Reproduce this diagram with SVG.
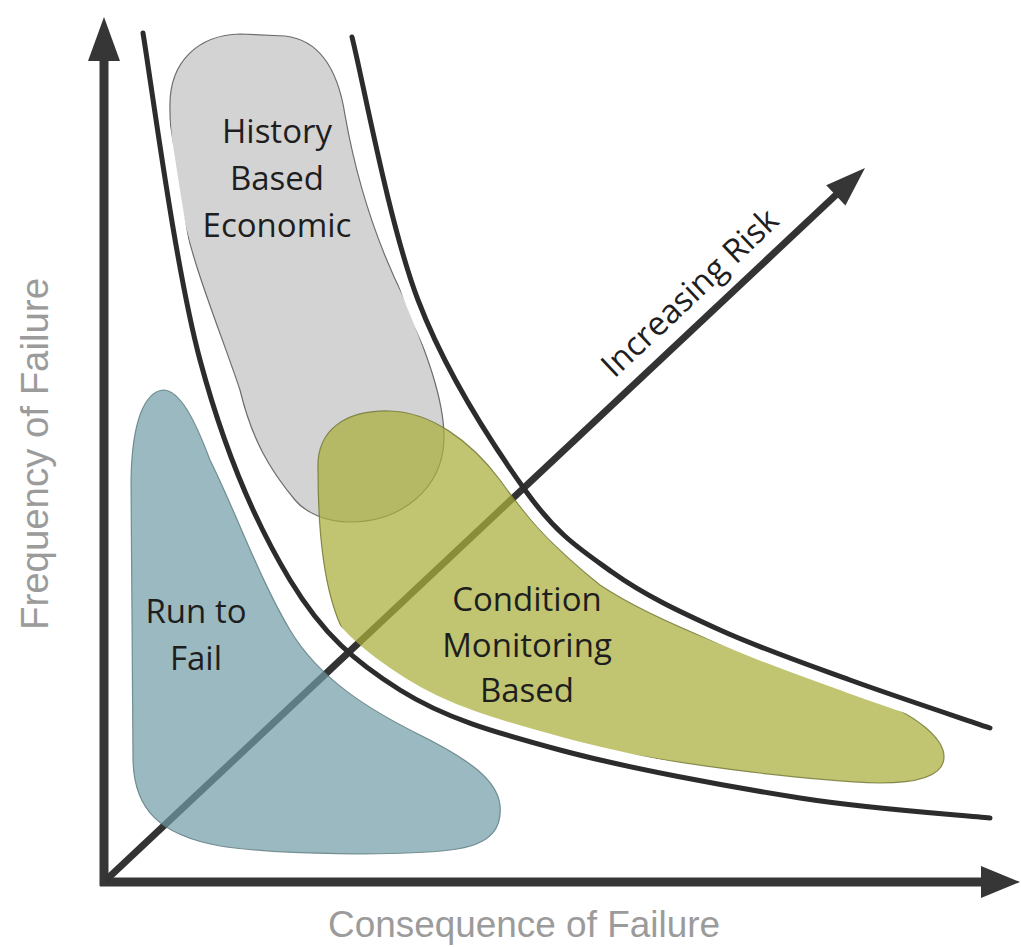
<svg xmlns="http://www.w3.org/2000/svg" xmlns:xlink="http://www.w3.org/1999/xlink" width="1021" height="947" viewBox="0 0 1021 947">
<style>
.axis{stroke:#363636;stroke-width:9;fill:none}
.head{fill:#363636}
.diag{stroke:#333;stroke-width:7;fill:none}
.curve{stroke:#2c2c2c;stroke-width:5;fill:none;stroke-linecap:round}
.lbl{font-family:"Open Sans","Noto Sans",sans-serif;font-size:33px;fill:#1e1e1e;text-anchor:middle}
.axlbl{font-family:"Liberation Sans",Arial,sans-serif;fill:#9b9b9b;text-anchor:middle}
</style>
<defs>
<path id="c1" d="M143,33 C152,88 175.5,268.8 200,360 C224.5,451.2 256.7,525 290,580 C323.3,635 355,661.7 400,690 C445,718.3 493.3,732 560,750 C626.7,768 728.3,786.7 800,798 C871.7,809.3 958,814.7 990,818"/>
<path id="c2" d="M352,37 C363,80.8 389.2,224.5 418,300 C446.8,375.5 492.7,444.7 525,490 C557.3,535.3 579.5,548.7 612,572 C644.5,595.3 680.3,612 720,630 C759.7,648 805,663.7 850,680 C895,696.3 966.7,720 990,728"/>
<mask id="band" maskUnits="userSpaceOnUse" x="0" y="0" width="1021" height="947">
<rect width="1021" height="947" fill="#fff"/>
<use xlink:href="#c1" href="#c1" fill="none" stroke="#000" stroke-width="26"/>
<use xlink:href="#c2" href="#c2" fill="none" stroke="#000" stroke-width="26"/>
</mask>
</defs>
<rect width="1021" height="947" fill="#fff"/>
<g id="connectors">
<line class="axis" x1="104" y1="886" x2="104" y2="56"/>
<polygon class="head" points="104,17 120,61 88,61"/>
<line class="axis" x1="100" y1="882" x2="985" y2="882"/>
<polygon class="head" points="1020,882 981,866 981,898"/>
<line class="diag" x1="105" y1="881" x2="838" y2="193"/>
<polygon class="head" points="865,168 845.4,205.6 826.2,185.2"/>
</g>
<g id="node-history">
<path mask="url(#band)" d="M170,110 C168,60 200,35 240,34 L285,36 C320,40 338,70 345,115 C360,200 385,260 405,300 C425,350 445,400 444,440 C442,490 400,522 350,522 C325,522 305,512 295,500 C270,470 252,440 240,390 C220,330 190,260 180,200 C173,160 170,130 170,110 Z" fill="#c0c1c2" fill-opacity="0.7" stroke="#6d6d6d" stroke-width="1.2"/>
<text class="lbl" x="277" y="143">History</text>
<text class="lbl" x="277" y="190">Based</text>
<text class="lbl" x="277" y="237">Economic</text>
</g>
<g id="node-condition">
<path mask="url(#band)" d="M318,470 C316,430 345,410 390,411 C430,412 470,440 500,480 C525,515 550,545 600,585 C660,625 760,660 860,693 C920,715 945,740 944,758 C943,775 920,783 880,783 C800,780 680,765 570,743 C470,720 400,690 360,655 C330,625 318,560 318,470 Z" fill="#aaaf3c" fill-opacity="0.73" stroke="#6f7330" stroke-width="1.2" stroke-opacity="0.8"/>
<text class="lbl" x="527" y="611">Condition</text>
<text class="lbl" x="527" y="657">Monitoring</text>
<text class="lbl" x="527" y="702">Based</text>
</g>
<g id="node-runtofail">
<path mask="url(#band)" d="M163,390 C145,392 132,420 131,480 L133,760 C134,810 160,835 220,846 C280,855 400,856 450,850 C495,845 502,825 500,805 C497,780 470,760 420,735 C370,710 320,680 290,630 C260,580 235,510 210,460 C195,420 180,390 163,390 Z" fill="#719ba5" fill-opacity="0.7" stroke="#5d7a80" stroke-width="1.2" stroke-opacity="0.8"/>
<text class="lbl" x="196" y="623">Run to</text>
<text class="lbl" x="196" y="670">Fail</text>
</g>
<g id="bands">
<use xlink:href="#c1" href="#c1" class="curve"/>
<use xlink:href="#c2" href="#c2" class="curve"/>
</g>
<g id="labels">
<text class="lbl" transform="translate(690,293) rotate(-43.2)" y="11" fill="#2a2a2a">Increasing Risk</text>
<text class="axlbl" x="524" y="937" font-size="37" textLength="392" lengthAdjust="spacingAndGlyphs">Consequence of Failure</text>
<text class="axlbl" transform="translate(48,454) rotate(-90)" font-size="38" textLength="352" lengthAdjust="spacingAndGlyphs">Frequency of Failure</text>
</g>
</svg>
